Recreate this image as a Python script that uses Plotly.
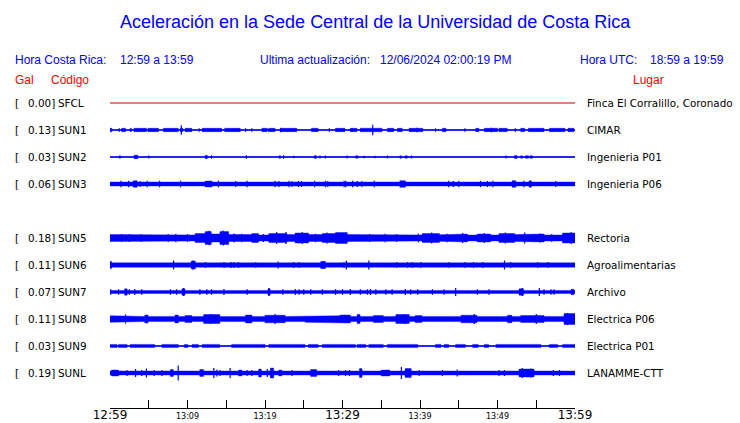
import numpy as np
import plotly.graph_objects as go

# ---------------- data ----------------
codes = ["SFCL", "SUN1", "SUN2", "SUN3", "SUN5", "SUN6", "SUN7", "SUN8", "SUN9", "SUNL"]
row_slots = [0, 1, 2, 3, 5, 6, 7, 8, 9, 10]
gal_values = [0.00, 0.13, 0.03, 0.06, 0.18, 0.11, 0.07, 0.11, 0.03, 0.19]
places = ["Finca El Corralillo, Coronado", "CIMAR", "Ingenieria P01", "Ingenieria P06",
          "Rectoria", "Agroalimentarias", "Archivo", "Electrica P06", "Electrica P01", "LANAMME-CTT"]
# background (quiet) half-amplitude of each trace, display units
base_amp = [0.0, 0.5, 0.5, 2.0, 3.0, 2.2, 1.6, 2.6, 0.5, 2.0]

# bursts: (start minute, end minute, half-amplitude)
SFCL_bursts = []
SUN1_bursts = [(0.0, 0.3, 1.7), (1.5, 2.0, 1.7), (2.6, 2.8, 1.7), (3.1, 4.7, 1.7), (4.9, 6.3, 1.7),
               (6.9, 8.0, 1.7), (8.0, 8.5, 2.2), (8.5, 8.8, 1.7), (9.1, 9.4, 1.7), (9.7, 10.6, 1.7),
               (11.9, 14.4, 1.7), (14.8, 16.8, 1.7), (19.6, 20.3, 1.7), (20.4, 21.3, 1.7),
               (22.0, 24.1, 1.7), (26.0, 26.9, 1.7), (29.1, 30.3, 1.7), (31.0, 31.9, 1.7),
               (32.3, 35.1, 1.8), (35.8, 36.6, 1.7), (37.1, 37.7, 1.7), (38.6, 40.4, 1.7),
               (42.9, 43.4, 1.7), (47.2, 47.6, 1.7), (48.3, 50.0, 1.7), (50.2, 51.3, 1.7),
               (53.0, 53.5, 1.7), (54.0, 56.0, 1.7), (56.7, 58.7, 1.7), (59.1, 59.9, 1.7)]
SUN1_spikes = [(9.2, 4.7), (33.9, 5.3), (1.2, 1.7), (11.5, 1.7), (17.5, 1.7), (18.3, 1.7),
               (22.0, 2.2), (28.3, 1.7), (42.0, 1.7), (45.8, 1.7), (49.2, 2.3), (52.3, 1.7), (39.6, 2.2)]
SUN2_bursts = [(1.2, 1.4, 1.3), (3.1, 3.6, 1.7), (12.3, 12.6, 1.7), (21.8, 22.0, 1.3), (26.4, 26.6, 1.5),
               (31.7, 32.0, 1.3), (37.4, 37.6, 1.3), (38.1, 38.4, 1.3), (50.2, 50.6, 1.2),
               (52.2, 52.5, 1.5), (53.0, 53.2, 1.3), (53.6, 54.0, 1.3), (54.2, 54.5, 1.3)]
SUN2_spikes = [(5.0, 1.5), (13.1, 1.7), (17.6, 1.7), (22.4, 1.7), (23.7, 1.3), (27.1, 1.5), (27.8, 1.5),
               (30.6, 1.5), (32.8, 1.3), (34.2, 1.3), (35.8, 1.5), (38.9, 1.5), (51.1, 1.5)]
SUN3_bursts = [(3.0, 3.5, 3.3), (12.3, 13.2, 3.0), (37.4, 38.1, 3.3), (51.9, 52.4, 3.3), (54.1, 54.4, 3.3)]
SUN3_spikes = [(1.4, 3.3), (2.4, 3.3), (3.9, 3.0), (4.8, 3.3), (6.4, 3.3), (9.1, 3.3), (14.0, 3.3),
               (16.2, 3.0), (17.7, 3.3), (21.3, 3.3), (21.8, 3.0), (23.1, 3.3), (23.5, 3.0), (24.3, 3.3),
               (24.7, 3.0), (26.4, 3.3), (27.8, 3.3), (28.1, 3.0), (30.2, 3.3), (30.4, 3.3), (31.3, 3.3),
               (31.9, 3.0), (32.5, 3.0), (34.1, 3.3), (43.7, 3.3), (44.3, 3.0), (45.0, 3.3), (47.8, 3.3),
               (48.7, 3.0), (49.4, 3.3), (53.4, 3.3), (57.5, 3.0)]
SUN5_bursts = [(0.0, 1.3, 3.5), (5.2, 6.9, 3.3), (11.0, 12.3, 4.5), (12.3, 13.1, 6.5), (13.1, 14.2, 4.0),
               (14.2, 15.3, 6.5), (15.3, 18.3, 3.5), (18.3, 19.2, 4.5), (20.5, 22.8, 4.5),
               (22.8, 23.9, 3.5), (23.9, 25.6, 5.0), (25.6, 27.4, 3.5), (27.4, 29.1, 4.5),
               (29.1, 30.6, 5.5), (30.6, 32.3, 3.5), (40.3, 42.5, 4.5), (42.5, 44.8, 3.3),
               (44.8, 46.1, 4.0), (47.4, 49.1, 4.0), (50.2, 52.2, 4.5), (52.2, 54.7, 3.5),
               (54.7, 56.0, 4.0), (58.4, 60.0, 5.0)]
SUN5_spikes = [(1.5, 4.0), (2.5, 4.0), (4.0, 4.0), (7.5, 4.0), (8.5, 4.2), (10.0, 4.0), (12.8, 7.3),
               (14.6, 7.5), (16.0, 4.5), (17.0, 4.2), (19.8, 4.0), (21.5, 6.0), (22.7, 6.0), (24.8, 6.0),
               (26.5, 4.2), (28.0, 5.5), (33.5, 4.0), (35.5, 4.2), (37.0, 4.0), (39.8, 4.3), (41.5, 5.5),
               (43.5, 4.3), (45.5, 5.0), (48.3, 5.0), (51.0, 5.5), (53.5, 5.5), (55.5, 4.5), (57.0, 4.0),
               (59.5, 6.0)]
SUN6_bursts = [(0.0, 0.2, 3.5), (10.5, 11.0, 4.0), (27.2, 27.8, 3.5), (34.0, 35.3, 2.7)]
SUN6_spikes = [(8.2, 4.5), (10.7, 4.5), (12.3, 3.0), (14.7, 3.0), (15.6, 3.0), (16.0, 3.0), (16.6, 3.0),
               (18.8, 2.8), (21.7, 3.5), (23.7, 3.0), (24.4, 3.0), (27.5, 4.0), (30.2, 3.0), (30.5, 4.5),
               (33.4, 4.5), (37.0, 3.0), (38.4, 3.0), (39.0, 3.0), (40.1, 3.0), (43.7, 2.8), (45.8, 3.0),
               (46.9, 3.0), (48.1, 3.0), (50.9, 4.5), (51.7, 3.0), (55.2, 3.0), (56.5, 3.0)]
SUN7_bursts = [(1.9, 2.2, 3.2), (9.3, 9.7, 3.3), (20.4, 20.7, 3.3), (52.8, 53.4, 3.3), (59.5, 59.9, 2.7)]
SUN7_spikes = [(0.1, 2.8), (1.1, 2.8), (2.5, 2.8), (3.2, 3.0), (4.1, 2.8), (7.8, 2.8), (8.6, 2.8),
               (9.5, 4.0), (11.6, 2.8), (12.5, 2.8), (13.1, 2.8), (14.7, 3.0), (17.7, 2.8), (20.5, 4.0),
               (22.3, 2.8), (23.9, 3.0), (24.4, 2.8), (25.0, 2.8), (25.9, 2.8), (27.4, 2.8), (29.1, 2.8),
               (30.0, 2.8), (31.0, 3.0), (32.3, 2.8), (33.2, 2.8), (33.6, 3.0), (34.3, 2.8), (35.6, 2.8),
               (36.4, 2.8), (38.1, 3.0), (38.8, 2.8), (39.7, 2.8), (41.6, 2.8), (43.1, 2.8), (44.6, 4.0),
               (47.4, 2.8), (48.9, 2.8), (53.2, 4.0), (55.4, 4.0), (56.0, 2.8), (56.9, 2.8), (57.3, 2.8)]
SUN8_bursts = [(0.0, 2.4, 3.3), (2.4, 3.2, 3.0), (4.5, 4.9, 4.0), (8.4, 8.8, 4.0), (9.7, 10.6, 3.5),
               (12.1, 14.2, 4.5), (17.5, 18.3, 4.0), (20.0, 22.6, 3.8), (25.2, 29.7, 3.3),
               (29.7, 31.0, 4.0), (31.9, 32.3, 4.5), (34.0, 35.3, 3.5), (36.9, 38.6, 4.5),
               (39.4, 40.3, 3.5), (42.5, 43.5, 3.3), (45.3, 47.4, 3.8), (51.3, 51.9, 3.8),
               (53.0, 56.0, 3.5), (58.6, 60.0, 5.5)]
SUN8_spikes = [(2.0, 4.5), (21.3, 5.0), (13.0, 5.0), (38.0, 5.0), (47.0, 5.0), (55.0, 5.0), (59.0, 6.0)]
SUN9_bursts = [(0.0, 0.9, 1.6), (1.1, 2.2, 1.6), (2.6, 5.8, 1.6), (6.7, 8.8, 1.6), (9.6, 10.1, 1.6),
               (10.6, 11.4, 1.6), (11.9, 14.2, 1.6), (15.7, 20.0, 1.6), (20.5, 25.2, 1.6),
               (25.6, 26.9, 1.6), (27.4, 31.7, 1.6), (31.9, 33.0, 1.6), (33.4, 35.3, 1.6),
               (35.8, 39.7, 1.6), (42.0, 42.7, 1.6), (43.1, 43.7, 1.6), (44.6, 45.9, 1.6),
               (46.8, 47.5, 1.6), (48.3, 48.9, 1.6), (49.8, 55.6, 1.6), (56.7, 57.8, 1.6), (58.4, 60.0, 1.6)]
SUN9_spikes = []
SUNL_bursts = [(0.2, 1.1, 3.0), (7.8, 8.2, 3.5), (11.6, 12.1, 3.5), (16.6, 17.0, 3.0), (19.2, 19.5, 4.0),
               (20.7, 21.1, 5.0), (21.8, 22.2, 3.0), (25.9, 26.7, 3.5), (32.2, 32.5, 4.5),
               (35.0, 36.1, 3.0), (38.1, 38.9, 4.5), (52.8, 54.7, 4.0)]
SUNL_spikes = [(2.2, 3.0), (3.3, 4.0), (4.1, 3.0), (4.7, 4.5), (5.7, 3.0), (6.7, 3.0), (8.8, 7.5),
               (13.4, 5.0), (13.8, 3.5), (14.2, 3.0), (15.5, 5.0), (17.7, 3.0), (18.3, 3.0), (20.3, 4.0),
               (20.9, 5.0), (23.5, 3.0), (29.5, 3.0), (30.4, 3.0), (30.9, 3.0), (37.6, 6.0), (39.9, 3.0),
               (42.9, 3.0), (44.8, 3.5), (50.2, 3.0), (50.9, 3.0), (53.2, 5.0), (54.3, 4.5), (57.2, 3.0),
               (58.0, 3.0)]

tick_minutes = [0, 5, 10, 15, 20, 25, 30, 35, 40, 45, 50, 55, 60]
tick_labels = ["12:59", "", "13:09", "", "13:19", "", "13:29", "", "13:39", "", "13:49", "", "13:59"]
major_labels = ["12:59", "13:29", "13:59"]

title_text = "Aceleración en la Sede Central de la Universidad de Costa Rica"
header_left = ("Hora Costa Rica:", "12:59 a 13:59")
header_mid = ("Ultima actualización:", "12/06/2024 02:00:19 PM")
header_right = ("Hora UTC:", "18:59 a 19:59")

# ---------------- build ----------------
bursts_by_code = {"SFCL": SFCL_bursts, "SUN1": SUN1_bursts, "SUN2": SUN2_bursts, "SUN3": SUN3_bursts,
                  "SUN5": SUN5_bursts, "SUN6": SUN6_bursts, "SUN7": SUN7_bursts, "SUN8": SUN8_bursts,
                  "SUN9": SUN9_bursts, "SUNL": SUNL_bursts}
spikes_by_code = {"SFCL": [], "SUN1": SUN1_spikes, "SUN2": SUN2_spikes, "SUN3": SUN3_spikes,
                  "SUN5": SUN5_spikes, "SUN6": SUN6_spikes, "SUN7": SUN7_spikes, "SUN8": SUN8_spikes,
                  "SUN9": SUN9_spikes, "SUNL": SUNL_spikes}

L, R, T, B = 110, 165, 90, 15
W, H = 740, 423
PW, PH = W - L - R, H - T - B
ROW_PX = 27.0
y_top = -(103 - T) / ROW_PX
y_bot = y_top + PH / ROW_PX
unit = 1.0 / ROW_PX  # one display unit of amplitude

BLUE = "#0000ff"
RED_LINE = "#c80000"

fig = go.Figure()
grid = np.arange(0, 60.0001, 0.05)

for code, slot, base in zip(codes, row_slots, base_amp):
    color = RED_LINE if code == "SFCL" else BLUE
    fig.add_trace(go.Scatter(x=[0, 60], y=[slot, slot], mode="lines",
                             line=dict(color=color, width=1), hoverinfo="skip", showlegend=False))
    if code == "SFCL":
        continue
    env = np.full_like(grid, base)
    for t0, t1, a in bursts_by_code[code]:
        m = (grid >= t0) & (grid <= t1)
        env[m] = np.maximum(env[m], a)
    xs = np.concatenate([grid, grid[::-1]])
    ys = np.concatenate([slot - env * unit, (slot + env * unit)[::-1]])
    fig.add_trace(go.Scatter(x=xs, y=ys, mode="lines", fill="toself", fillcolor=BLUE,
                             line=dict(color=BLUE, width=0.4), hoverinfo="skip", showlegend=False))
    sx, sy = [], []
    for t, a in spikes_by_code[code]:
        sx += [t, t, None]
        sy += [slot - a * unit, slot + a * unit, None]
    if sx:
        fig.add_trace(go.Scatter(x=sx, y=sy, mode="lines", line=dict(color=BLUE, width=1.2),
                                 hoverinfo="skip", showlegend=False))


def px_x(p):
    return (p - L) / PW


def px_y(p):
    return (H - B - p) / PH


ann = []
TXT = "DejaVu Sans"
for code, slot, g, place in zip(codes, row_slots, gal_values, places):
    ann.append(dict(x=px_x(13), y=slot, xref="paper", yref="y", text="[", xanchor="left",
                    yanchor="middle", showarrow=False, font=dict(family=TXT, size=10.4, color="black")))
    ann.append(dict(x=px_x(57), y=slot, xref="paper", yref="y", text=f"{g:.2f}]", xanchor="right",
                    yanchor="middle", showarrow=False, font=dict(family=TXT, size=10.4, color="black")))
    ann.append(dict(x=px_x(56), y=slot, xref="paper", yref="y", text=code, xanchor="left",
                    yanchor="middle", showarrow=False, font=dict(family=TXT, size=10.4, color="black")))
    ann.append(dict(x=px_x(585), y=slot, xref="paper", yref="y", text=place, xanchor="left",
                    yanchor="middle", showarrow=False, font=dict(family=TXT, size=10.4, color="black")))

HF = "Liberation Sans, Arial, sans-serif"
ann.append(dict(x=px_x(375.5), y=px_y(22), xref="paper", yref="paper", text=title_text,
                xanchor="center", yanchor="middle", showarrow=False,
                font=dict(family=HF, size=18, color=BLUE)))
for (lab, val), (x1, x2) in zip([header_left, header_mid, header_right],
                                [(13, 118), (258, 378), (578, 648)]):
    ann.append(dict(x=px_x(x1), y=px_y(60), xref="paper", yref="paper", text=lab, xanchor="left",
                    yanchor="middle", showarrow=False, font=dict(family=HF, size=12, color=BLUE)))
    ann.append(dict(x=px_x(x2), y=px_y(60), xref="paper", yref="paper", text=val, xanchor="left",
                    yanchor="middle", showarrow=False, font=dict(family=HF, size=12, color=BLUE)))
for txt, x1 in [("Gal", 13), ("Código", 49), ("Lugar", 631)]:
    ann.append(dict(x=px_x(x1), y=px_y(80), xref="paper", yref="paper", text=txt, xanchor="left",
                    yanchor="middle", showarrow=False, font=dict(family=HF, size=12, color="#ff0000")))

ticktext = [lab if (lab == "" or lab in major_labels) else f"<span style='font-size:8px'>{lab}</span>"
            for lab in tick_labels]

fig.update_layout(
    width=W, height=H, margin=dict(l=L, r=R, t=T, b=B, autoexpand=False),
    paper_bgcolor="white", plot_bgcolor="white", showlegend=False,
    annotations=ann,
    xaxis=dict(range=[0, 60], showgrid=False, zeroline=False, showline=True, linecolor="black",
               linewidth=1, ticks="inside", ticklen=8, tickwidth=1, tickcolor="black",
               tickvals=tick_minutes, ticktext=ticktext, automargin=False, ticklabelstandoff=-4,
               tickfont=dict(family=TXT, size=12, color="black"), fixedrange=True),
    yaxis=dict(range=[y_bot, y_top], visible=False, fixedrange=True),
)

fig.write_html("out.html", config={"displayModeBar": False},
               post_script="document.body.style.margin='0px';document.body.style.overflow='hidden';")
